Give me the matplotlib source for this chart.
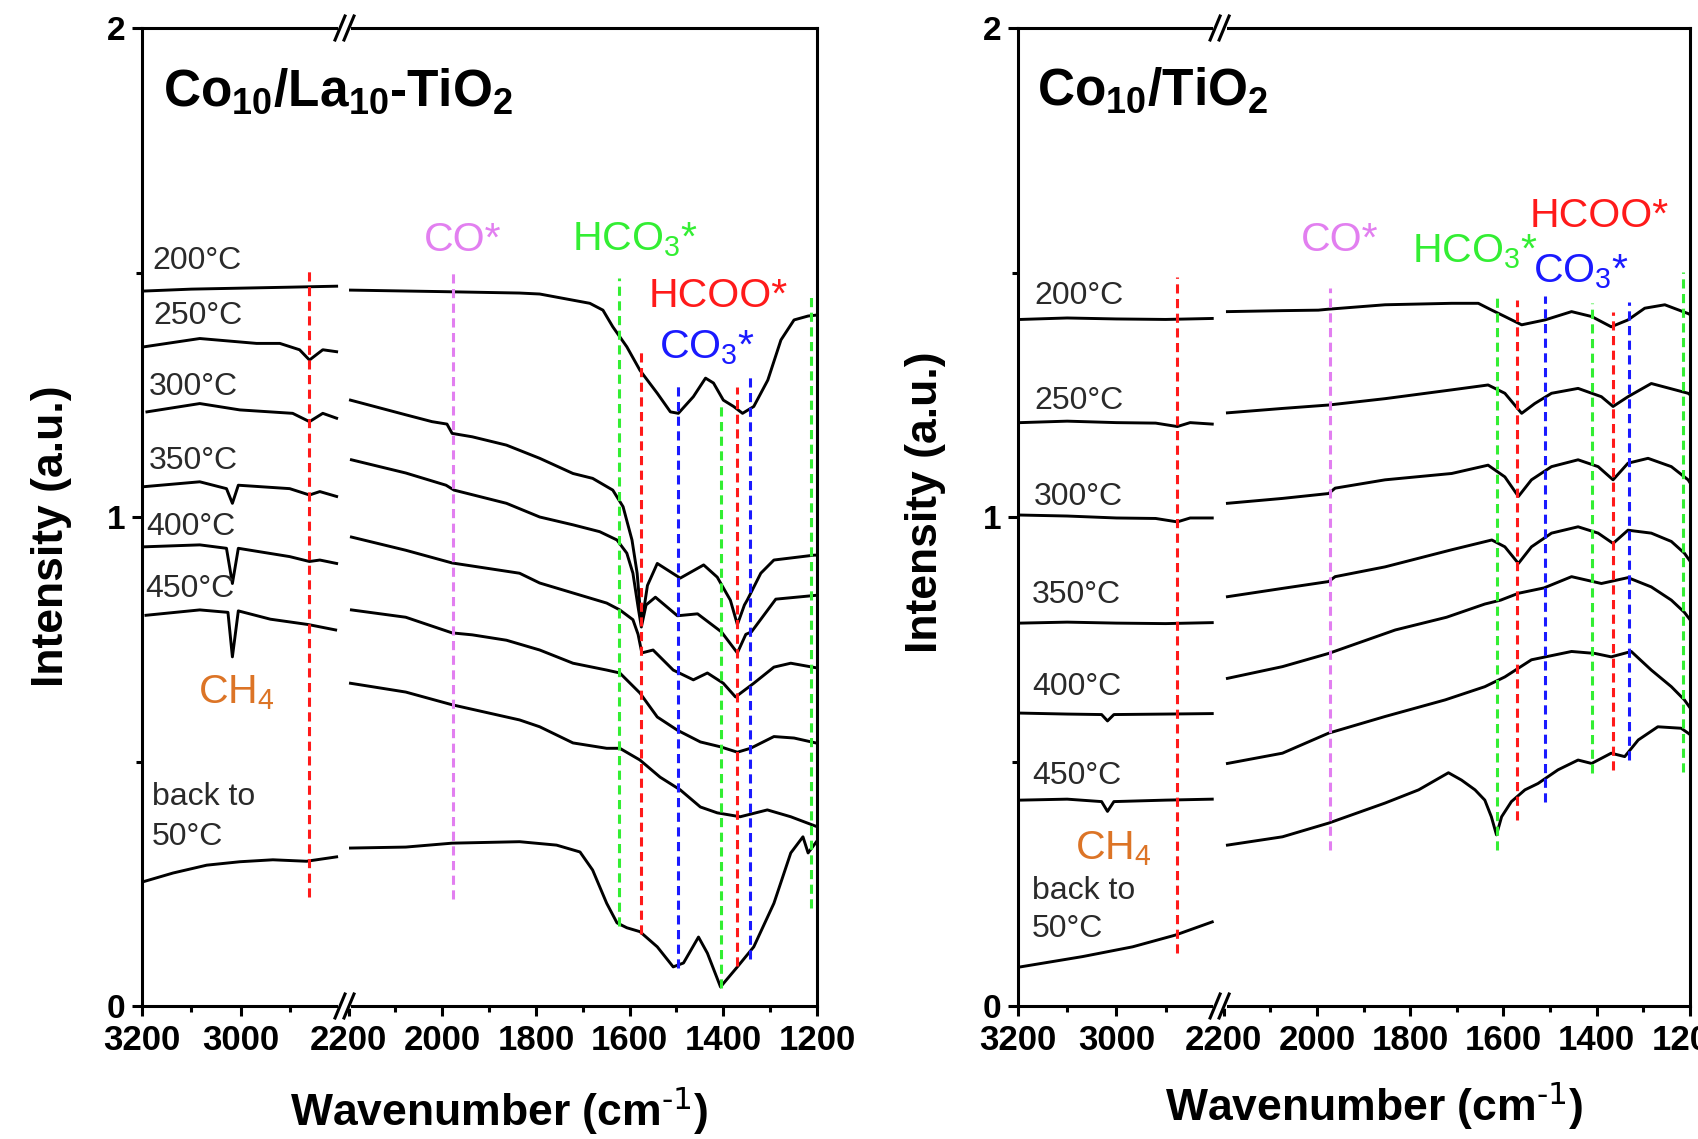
import numpy as np
import matplotlib
matplotlib.use("Agg")
import matplotlib.pyplot as plt

plt.rcParams['font.family'] = ['Liberation Sans', 'DejaVu Sans']
plt.rcParams['mathtext.default'] = 'regular'

# ---------------- data (wavenumber cm-1, intensity a.u.) ----------------
# Co10/La10-TiO2, high-wavenumber segment (3200-2800)
LA_200_HI = [(3198, 1.462), (3100, 1.466), (3000, 1.468), (2900, 1.470), (2806, 1.472)]
LA_250_HI = [(3196, 1.348), (3083, 1.365), (2968, 1.355), (2921, 1.355), (2881, 1.342),
             (2861, 1.321), (2834, 1.342), (2806, 1.338)]
LA_300_HI = [(3190, 1.215), (3083, 1.232), (3002, 1.219), (2895, 1.212), (2861, 1.195),
             (2834, 1.212), (2806, 1.202)]
LA_350_HI = [(3196, 1.062), (3083, 1.072), (3029, 1.058), (3017, 1.028), (3005, 1.065),
             (2901, 1.058), (2861, 1.045), (2840, 1.052), (2806, 1.042)]
LA_400_HI = [(3196, 0.939), (3083, 0.943), (3029, 0.936), (3017, 0.864), (3005, 0.936),
             (2901, 0.919), (2861, 0.909), (2840, 0.912), (2806, 0.905)]
LA_450_HI = [(3192, 0.799), (3083, 0.810), (3026, 0.805), (3017, 0.714), (3005, 0.808),
             (2940, 0.791), (2863, 0.780), (2808, 0.769)]
LA_50_HI = [(3198, 0.254), (3137, 0.272), (3069, 0.288), (3002, 0.295), (2935, 0.299),
            (2867, 0.296), (2806, 0.305)]

# Co10/La10-TiO2, low-wavenumber segment (2200-1200)
LA_200_LO = [(2196, 1.464), (2007, 1.461), (1835, 1.458), (1792, 1.456), (1685, 1.437),
             (1657, 1.423), (1636, 1.389), (1606, 1.348), (1578, 1.300), (1541, 1.253),
             (1513, 1.215), (1496, 1.212), (1464, 1.246), (1438, 1.284), (1421, 1.274),
             (1400, 1.239), (1378, 1.226), (1359, 1.212), (1335, 1.226), (1305, 1.280),
             (1277, 1.362), (1249, 1.403), (1219, 1.411), (1200, 1.413)]
LA_250_LO = [(2196, 1.239), (2078, 1.209), (2022, 1.195), (1990, 1.190), (1979, 1.171),
             (1936, 1.164), (1863, 1.147), (1792, 1.120), (1721, 1.089), (1679, 1.079),
             (1636, 1.055), (1614, 1.021), (1595, 0.953), (1584, 0.885), (1578, 0.817),
             (1573, 0.790), (1562, 0.860), (1541, 0.905), (1492, 0.875), (1442, 0.902),
             (1413, 0.877), (1385, 0.830), (1370, 0.780), (1355, 0.820), (1349, 0.830),
             (1320, 0.885), (1292, 0.912), (1206, 0.922), (1200, 0.922)]
LA_300_LO = [(2194, 1.117), (2078, 1.090), (1992, 1.065), (1975, 1.055), (1863, 1.028),
             (1792, 1.000), (1721, 0.984), (1664, 0.970), (1627, 0.953), (1606, 0.926),
             (1593, 0.885), (1582, 0.816), (1575, 0.775), (1565, 0.820), (1545, 0.836),
             (1498, 0.798), (1455, 0.802), (1404, 0.765), (1370, 0.722), (1352, 0.760),
             (1340, 0.765), (1288, 0.832), (1200, 0.840)]
LA_350_LO = [(2194, 0.959), (2078, 0.932), (1979, 0.906), (1835, 0.885), (1792, 0.865),
             (1649, 0.824), (1621, 0.810), (1593, 0.790), (1582, 0.760), (1574, 0.722),
             (1550, 0.728), (1507, 0.687), (1464, 0.667), (1434, 0.681), (1400, 0.660),
             (1374, 0.632), (1335, 0.660), (1292, 0.693), (1256, 0.701), (1198, 0.691)]
LA_400_LO = [(2194, 0.810), (2078, 0.795), (1979, 0.763), (1936, 0.759), (1863, 0.748),
             (1792, 0.728), (1721, 0.701), (1649, 0.687), (1621, 0.681), (1578, 0.640),
             (1541, 0.591), (1498, 0.564), (1449, 0.540), (1406, 0.530), (1370, 0.519),
             (1342, 0.527), (1292, 0.551), (1249, 0.548), (1198, 0.537)]
LA_450_LO = [(2196, 0.660), (2150, 0.653), (2078, 0.642), (1979, 0.616), (1835, 0.585),
             (1792, 0.571), (1721, 0.538), (1649, 0.527), (1621, 0.527), (1578, 0.503),
             (1535, 0.468), (1492, 0.442), (1449, 0.407), (1413, 0.395), (1364, 0.387),
             (1306, 0.401), (1256, 0.387), (1198, 0.366)]
LA_50_LO = [(2196, 0.323), (2078, 0.325), (1979, 0.333), (1835, 0.336), (1756, 0.329),
            (1706, 0.315), (1679, 0.278), (1649, 0.210), (1627, 0.170), (1606, 0.160),
            (1578, 0.152), (1541, 0.121), (1507, 0.080), (1485, 0.088), (1453, 0.141),
            (1434, 0.108), (1406, 0.039), (1370, 0.080), (1335, 0.121), (1292, 0.210),
            (1256, 0.313), (1230, 0.346), (1219, 0.313), (1198, 0.340)]

# Co10/TiO2, high-wavenumber segment
TI_200_HI = [(3195, 1.404), (3100, 1.407), (3000, 1.405), (2900, 1.404), (2805, 1.406)]
TI_250_HI = [(3195, 1.193), (3100, 1.196), (3000, 1.193), (2920, 1.192), (2876, 1.185),
             (2850, 1.193), (2805, 1.190)]
TI_300_HI = [(3195, 1.004), (3100, 1.002), (3000, 0.998), (2920, 0.997), (2876, 0.990),
             (2850, 0.998), (2805, 0.998)]
TI_350_HI = [(3195, 0.783), (3100, 0.785), (3000, 0.783), (2900, 0.782), (2805, 0.784)]
TI_400_HI = [(3195, 0.599), (3100, 0.597), (3030, 0.596), (3018, 0.583), (3005, 0.596),
             (2900, 0.597), (2805, 0.598)]
TI_450_HI = [(3195, 0.421), (3100, 0.423), (3030, 0.418), (3018, 0.398), (3005, 0.418),
             (2900, 0.421), (2805, 0.423)]
TI_50_HI = [(3195, 0.080), (3069, 0.101), (2967, 0.121), (2880, 0.145), (2805, 0.172)]

# Co10/TiO2, low-wavenumber segment
TI_200_LO = [(2192, 1.420), (2074, 1.422), (1997, 1.423), (1975, 1.425), (1854, 1.434),
             (1711, 1.437), (1654, 1.437), (1625, 1.423), (1597, 1.410), (1561, 1.393),
             (1511, 1.403), (1454, 1.420), (1411, 1.410), (1369, 1.389), (1333, 1.403),
             (1297, 1.427), (1254, 1.434), (1204, 1.416), (1200, 1.414)]
TI_250_LO = [(2192, 1.213), (2074, 1.222), (1975, 1.229), (1854, 1.242), (1711, 1.260),
             (1633, 1.270), (1597, 1.253), (1561, 1.212), (1533, 1.232), (1497, 1.253),
             (1440, 1.263), (1390, 1.246), (1365, 1.226), (1333, 1.246), (1283, 1.273),
             (1204, 1.253), (1200, 1.250)]
TI_300_LO = [(2192, 1.028), (2074, 1.038), (1975, 1.048), (1961, 1.059), (1854, 1.076),
             (1711, 1.089), (1633, 1.106), (1597, 1.082), (1568, 1.042), (1540, 1.076),
             (1497, 1.103), (1440, 1.117), (1397, 1.103), (1365, 1.076), (1333, 1.110),
             (1290, 1.120), (1240, 1.103), (1204, 1.076), (1200, 1.070)]
TI_350_LO = [(2192, 0.837), (2074, 0.854), (1975, 0.868), (1961, 0.878), (1854, 0.898),
             (1711, 0.933), (1625, 0.953), (1597, 0.939), (1568, 0.905), (1540, 0.939),
             (1497, 0.967), (1440, 0.980), (1397, 0.967), (1365, 0.946), (1333, 0.973),
             (1283, 0.967), (1240, 0.950), (1212, 0.926), (1200, 0.910)]
TI_400_LO = [(2192, 0.670), (2074, 0.694), (1975, 0.721), (1832, 0.769), (1722, 0.795),
             (1640, 0.822), (1606, 0.830), (1568, 0.844), (1513, 0.855), (1454, 0.878),
             (1390, 0.864), (1333, 0.876), (1283, 0.857), (1240, 0.830), (1212, 0.805),
             (1200, 0.790)]
TI_450_LO = [(2192, 0.496), (2074, 0.517), (1975, 0.558), (1854, 0.592), (1725, 0.626),
             (1640, 0.653), (1597, 0.673), (1540, 0.708), (1454, 0.725), (1404, 0.721),
             (1369, 0.714), (1326, 0.725), (1283, 0.687), (1240, 0.653), (1212, 0.626),
             (1200, 0.610)]
TI_50_LO = [(2192, 0.329), (2074, 0.346), (1975, 0.374), (1854, 0.415), (1782, 0.442),
            (1718, 0.477), (1690, 0.462), (1661, 0.442), (1640, 0.421), (1626, 0.387),
            (1615, 0.350), (1604, 0.387), (1583, 0.418), (1554, 0.442), (1526, 0.455),
            (1483, 0.483), (1440, 0.503), (1411, 0.496), (1369, 0.517), (1340, 0.510),
            (1311, 0.544), (1269, 0.571), (1219, 0.568), (1204, 0.558), (1200, 0.555)]

# reference band positions (wavenumber), species, and vertical extent (intensity)
LA_BANDS = [2862, 1977, 1622, 1575, 1497, 1406, 1370, 1342, 1213]
LA_SPECIES = ['HCOO', 'CO', 'HCO3', 'HCOO', 'CO3', 'HCO3', 'HCOO', 'CO3', 'HCO3']
LA_TOP = [1.503, 1.507, 1.489, 1.339, 1.272, 1.231, 1.266, 1.290, 1.452]
LA_BOTTOM = [0.223, 0.219, 0.164, 0.147, 0.078, 0.037, 0.082, 0.096, 0.200]

TI_BANDS = [2876, 1971, 1614, 1571, 1511, 1411, 1365, 1331, 1214]
TI_SPECIES = ['HCOO', 'CO', 'HCO3', 'HCOO', 'CO3', 'HCO3', 'HCOO', 'CO3', 'HCO3']
TI_TOP = [1.491, 1.468, 1.447, 1.444, 1.451, 1.437, 1.420, 1.440, 1.502]
TI_BOTTOM = [0.108, 0.319, 0.319, 0.380, 0.418, 0.476, 0.483, 0.503, 0.479]

TEMPS = ['200°C', '250°C', '300°C', '350°C', '400°C', '450°C']
X_MAJOR = [3200, 3000, 2200, 2000, 1800, 1600, 1400, 1200]
X_MINOR = [3100, 2900, 2100, 1900, 1700, 1500, 1300]

SPECIES_COLOR = {'HCOO': '#ff1a1a', 'CO': '#e27ff0', 'HCO3': '#33ee33', 'CO3': '#1a1aff'}
CH4_COLOR = '#dc7426'
TEMP_COLOR = '#2a2a2a'


# broken wavenumber axis: 3200-2800 | 2200-1200
def fwd(w):
    w = np.asarray(w, dtype=float)
    p = np.where(w >= 2800, (3200 - w) * 0.4925,
                 np.where(w > 2200, 197 + (2800 - w) * 0.015, 206 + (2200 - w) * 0.467))
    return 673 - p


def inv(q):
    p = 673 - np.asarray(q, dtype=float)
    return np.where(p <= 197, 3200 - p / 0.4925,
                    np.where(p < 206, 2800 - (p - 197) / 0.015, 2200 - (p - 206) / 0.467))


def draw_break(ax, xf):
    bb = ax.get_position()
    wpx = bb.width * fig.get_figwidth() * fig.dpi
    hpx = bb.height * fig.get_figheight() * fig.dpi
    for yb in (0, 1):
        ax.plot([xf - 7 / wpx, xf + 7 / wpx], [yb, yb], color='white', lw=4,
                transform=ax.transAxes, clip_on=False, zorder=10, solid_capstyle='butt')
        for c in (-4.5, 4.5):
            ax.plot([xf + (c - 5) / wpx, xf + (c + 5) / wpx],
                    [yb - 12 / hpx, yb + 12 / hpx], color='black', lw=2.2,
                    transform=ax.transAxes, clip_on=False, zorder=11)


fig = plt.figure(figsize=(16.99, 11.39), dpi=100)
ax1 = fig.add_axes([142 / 1699, 133 / 1139, 675 / 1699, 978 / 1139])
ax2 = fig.add_axes([1018 / 1699, 133 / 1139, 672 / 1699, 978 / 1139])

panels = [
    (ax1, [LA_200_HI, LA_250_HI, LA_300_HI, LA_350_HI, LA_400_HI, LA_450_HI, LA_50_HI],
     [LA_200_LO, LA_250_LO, LA_300_LO, LA_350_LO, LA_400_LO, LA_450_LO, LA_50_LO],
     LA_BANDS, LA_SPECIES, LA_TOP, LA_BOTTOM),
    (ax2, [TI_200_HI, TI_250_HI, TI_300_HI, TI_350_HI, TI_400_HI, TI_450_HI, TI_50_HI],
     [TI_200_LO, TI_250_LO, TI_300_LO, TI_350_LO, TI_400_LO, TI_450_LO, TI_50_LO],
     TI_BANDS, TI_SPECIES, TI_TOP, TI_BOTTOM),
]

for ax, hi, lo, bands, species, tops, bottoms in panels:
    ax.set_xscale('function', functions=(fwd, inv))
    ax.set_xlim(3200, 1200)
    ax.set_ylim(0, 2)

    for seg in hi + lo:
        x, y = zip(*seg)
        ax.plot(x, y, color='black', lw=2.1, zorder=3, solid_joinstyle='round')

    for wn, sp, t, b in zip(bands, species, tops, bottoms):
        ax.plot([wn, wn], [b, t], color=SPECIES_COLOR[sp], lw=2.2,
                linestyle=(0, (3, 1.8)), zorder=4)

    ax.set_xticks(X_MAJOR, labels=[str(v) for v in X_MAJOR])
    ax.set_xticks(X_MINOR, minor=True)
    ax.set_yticks([0, 1, 2], labels=['0', '1', '2'])
    ax.set_yticks([0.5, 1.5], minor=True)
    ax.tick_params(which='both', direction='out', width=2.2, top=False, right=False)
    ax.tick_params(which='major', length=7)
    ax.tick_params(which='minor', length=4)
    ax.tick_params(axis='x', which='major', labelsize=25, pad=6)
    ax.tick_params(axis='y', which='major', labelsize=24, pad=5)
    for lab in ax.get_xticklabels() + ax.get_yticklabels():
        lab.set_fontweight('bold')
    for s in ax.spines.values():
        s.set_linewidth(2.2)
    draw_break(ax, 0.30)

# ---- left panel texts ----
ax1.text(0.031, 0.921, 'Co$_{10}$/La$_{10}$-TiO$_{2}$', transform=ax1.transAxes,
         fontsize=37, fontweight='bold', va='baseline')
for lab, xw, yb in zip(TEMPS, [3180, 3176, 3186, 3186, 3192, 3194],
                       [1.507, 1.395, 1.250, 1.098, 0.964, 0.836]):
    ax1.text(xw, yb, lab, fontsize=23, color=TEMP_COLOR, va='baseline', ha='left')
ax1.text(3180, 0.412, 'back to', fontsize=23, color=TEMP_COLOR, va='baseline')
ax1.text(3180, 0.330, '50°C', fontsize=23, color=TEMP_COLOR, va='baseline')
ax1.text(3087, 0.618, 'CH$_4$', fontsize=29.5, color=CH4_COLOR, va='baseline')
ax1.text(2039, 1.544, 'CO*', fontsize=29.5, color=SPECIES_COLOR['CO'], va='baseline')
ax1.text(1724, 1.546, 'HCO$_3$*', fontsize=29.5, color=SPECIES_COLOR['HCO3'], va='baseline')
ax1.text(1560, 1.429, 'HCOO*', fontsize=29.5, color=SPECIES_COLOR['HCOO'], va='baseline')
ax1.text(1538, 1.325, 'CO$_3$*', fontsize=29.5, color=SPECIES_COLOR['CO3'], va='baseline')

# ---- right panel texts ----
ax2.text(0.028, 0.922, 'Co$_{10}$/TiO$_{2}$', transform=ax2.transAxes,
         fontsize=37, fontweight='bold', va='baseline')
for lab, xw, yb in zip(TEMPS, [3167, 3167, 3167, 3172, 3172, 3172],
                       [1.436, 1.221, 1.024, 0.825, 0.635, 0.453]):
    ax2.text(xw, yb, lab, fontsize=23, color=TEMP_COLOR, va='baseline', ha='left')
ax2.text(3172, 0.219, 'back to', fontsize=23, color=TEMP_COLOR, va='baseline')
ax2.text(3172, 0.141, '50°C', fontsize=23, color=TEMP_COLOR, va='baseline')
ax2.text(3084, 0.300, 'CH$_4$', fontsize=29.5, color=CH4_COLOR, va='baseline')
ax2.text(2035, 1.544, 'CO*', fontsize=29.5, color=SPECIES_COLOR['CO'], va='baseline')
ax2.text(1797, 1.521, 'HCO$_3$*', fontsize=29.5, color=SPECIES_COLOR['HCO3'], va='baseline')
ax2.text(1543, 1.593, 'HCOO*', fontsize=29.5, color=SPECIES_COLOR['HCOO'], va='baseline')
ax2.text(1536, 1.479, 'CO$_3$*', fontsize=29.5, color=SPECIES_COLOR['CO3'], va='baseline')

# axis titles
xlab = r'Wavenumber (cm$^{\text{-1}}$)'
fig.text(499 / 1699, 1 - 1111 / 1139, xlab, fontsize=32,
         fontweight='bold', ha='center', va='center')
fig.text(1374 / 1699, 1 - 1106 / 1139, xlab, fontsize=32,
         fontweight='bold', ha='center', va='center')
fig.text(52 / 1699, 1 - 536 / 1139, 'Intensity (a.u.)', fontsize=32,
         fontweight='bold', rotation=90, ha='center', va='center')
fig.text(926 / 1699, 1 - 502 / 1139, 'Intensity (a.u.)', fontsize=32,
         fontweight='bold', rotation=90, ha='center', va='center')

fig.savefig('out.png', dpi=100)
